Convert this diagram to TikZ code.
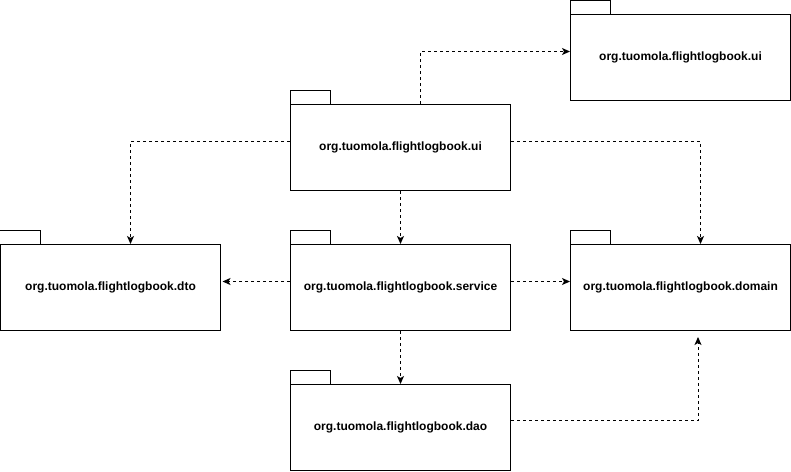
\documentclass[tikz,border=0pt]{standalone}
\usepackage{fontspec}
\setmainfont{Liberation Sans}
\usetikzlibrary{arrows.meta}
\begin{document}
\begin{tikzpicture}[x=1pt,y=-1pt,
  pkgbody/.style={draw=black,line width=1pt,fill=white,minimum width=220pt,minimum height=86pt,inner sep=0pt,
    font=\fontsize{12}{14}\selectfont\bfseries},
  dep/.style={draw=black,line width=1pt,dash pattern=on 3pt off 3pt,-{Stealth[length=8pt,width=7pt,inset=2pt]}}]
\useasboundingbox[fill=white] (-0.5,-0.5) rectangle (790.5,470.5);
\node[pkgbody] (uitop) at (680,57) {org.tuomola.flightlogbook.ui};
\node[pkgbody] (ui) at (400,147) {org.tuomola.flightlogbook.ui};
\node[pkgbody] (dto) at (110,287) {org.tuomola.flightlogbook.dto};
\node[pkgbody] (service) at (400,287) {org.tuomola.flightlogbook.service};
\node[pkgbody] (domain) at (680,287) {org.tuomola.flightlogbook.domain};
\node[pkgbody] (dao) at (400,427) {org.tuomola.flightlogbook.dao};
\foreach \n in {uitop,ui,dto,service,domain,dao}{
  \draw[line width=1pt] (\n.north west) -- ++(0,-13.5) -- ++(40,0) -- ++(0,13.5);
}
\draw[dep] ([xshift=20pt]ui.north) |- ([yshift=6pt]uitop.west);
\draw[dep] ([yshift=6pt]ui.west) -| ([xshift=20pt]dto.north);
\draw[dep] ([yshift=6pt]ui.east) -| ([xshift=20pt]domain.north);
\draw[dep] (ui.south) -- (service.north);
\draw[dep,shorten >=1.5pt] ([yshift=6pt]service.west) -- ([yshift=6pt]dto.east);
\draw[dep] ([yshift=6pt]service.east) -- ([yshift=6pt]domain.west);
\draw[dep] (service.south) -- (dao.north);
\draw[dep,shorten >=6pt] ([yshift=7pt]dao.east) -| ([xshift=17.5pt]domain.south);
\end{tikzpicture}
\end{document}
